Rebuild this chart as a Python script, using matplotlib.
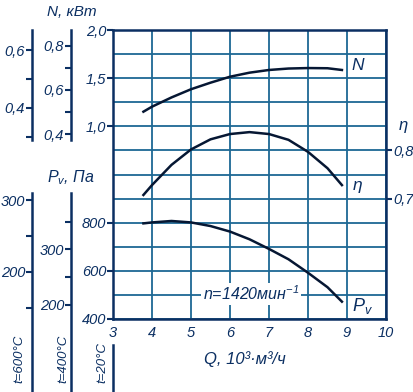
import numpy as np
import matplotlib
matplotlib.use("Agg")
import matplotlib.pyplot as plt

plt.rcParams['font.family'] = ['Liberation Sans', 'DejaVu Sans']
plt.rcParams['font.style'] = 'italic'
plt.rcParams['mathtext.fontset'] = 'custom'
plt.rcParams['mathtext.it'] = 'Liberation Sans:italic'
plt.rcParams['mathtext.rm'] = 'Liberation Sans:italic'

# Q, 10^3 m3/h
q = [3.78, 4.0, 4.5, 5.0, 5.5, 6.0, 6.5, 7.0, 7.5, 8.0, 8.5, 8.87]
# power, kW
n_kw = [1.152, 1.204, 1.30, 1.385, 1.453, 1.515, 1.557, 1.585, 1.60, 1.605, 1.603, 1.585]
# efficiency
eta = [0.7075, 0.728, 0.770, 0.802, 0.823, 0.834, 0.838, 0.834, 0.822, 0.797, 0.763, 0.728]
# pressure, Pa (t=20C)
pv = [797, 801, 807, 801, 786, 763, 731, 691, 648, 592, 532, 472]

x_ticks = [3, 4, 5, 6, 7, 8, 9, 10]
n_ticks = [1.0, 1.5, 2.0]
n_labels = ['1,0', '1,5', '2,0']
pv_ticks = [400, 600, 800]
eta_ticks = [0.7, 0.8]
eta_labels = ['0,7', '0,8']

# extra scales for hot gas: density ratio 293/T
k600 = 293 / 873
k400 = 293 / 673
n600_major, n600_minor = [0.4, 0.6], [0.3, 0.5]
n400_major, n400_minor = [0.4, 0.6, 0.8], [0.5, 0.7]
pv600_major, pv600_minor = [200, 300], [150, 250]
pv400_major, pv400_minor = [200, 300], [250, 350]

DARK = '#0b2f62'
GRID = '#1d6894'
CURVE = '#061733'
FS = 10.5

W, H = 414, 392
fig = plt.figure(figsize=(W / 100, H / 100), dpi=100)
L, R, T, B = 113, 386, 30, 319
ax = fig.add_axes([L / W, 1 - B / H, (R - L) / W, (B - T) / H])

# Pv axis (base)
ax.set_xlim(3, 10)
ax.set_ylim(400, 1600)
ax.set_xticks(x_ticks)
ax.set_xticklabels([str(v) for v in x_ticks])
ax.set_yticks(pv_ticks)
ax.set_yticklabels([str(v) for v in pv_ticks])
ax.set_yticks(np.arange(400, 1700, 100), minor=True)
ax.grid(True, which='both', color=GRID, lw=1.3)
ax.set_axisbelow(True)
ax.tick_params(axis='x', length=0, pad=5, labelsize=FS, labelcolor=DARK)
ax.tick_params(axis='y', which='major', direction='out', length=4, width=1.5,
               color=DARK, labelsize=FS, labelcolor=DARK, pad=1)
ax.tick_params(axis='y', which='minor', length=0)
for s in ax.spines.values():
    s.set_color(DARK)
    s.set_linewidth(1.8)
ax.plot(q, pv, color=CURVE, lw=1.8, zorder=5, solid_joinstyle='round')
# left spine continues below the chart
ax.plot([0, 0], [-0.09, -0.27], transform=ax.transAxes, clip_on=False,
        color=DARK, lw=1.8)

# N axis
axN = ax.twinx()
axN.set_ylim(-1, 2)
axN.yaxis.tick_left()
axN.set_yticks(n_ticks)
axN.set_yticklabels(n_labels)
axN.tick_params(axis='y', direction='out', length=4, width=1.5, color=DARK,
                labelsize=FS, labelcolor=DARK, pad=1)
for s in axN.spines.values():
    s.set_visible(False)
axN.plot(q, n_kw, color=CURVE, lw=1.8, solid_joinstyle='round')

# eta axis
axE = ax.twinx()
axE.set_ylim(0.45, 1.05)
axE.set_yticks(eta_ticks)
axE.set_yticklabels(eta_labels)
axE.tick_params(axis='y', direction='out', length=4, width=1.5, color=DARK,
                labelsize=FS, labelcolor=DARK, pad=1)
for s in axE.spines.values():
    s.set_visible(False)
axE.plot(q, eta, color=CURVE, lw=1.8, solid_joinstyle='round')

# extra left scales
px_per_u = (B - T) / 12
u_lo = -(H - B) / px_per_u
u_hi = B / px_per_u


def side_scale(xpx, k, nmaj, nmin, pmaj, pmin):
    a = fig.add_axes([xpx / W, 0, 0.0001, 1])
    a.patch.set_visible(False)
    a.set_xticks([])
    a.set_ylim(k * (1 + (u_lo - 8) * 0.25), k * (1 + (u_hi - 8) * 0.25))
    for nm, s in a.spines.items():
        s.set_visible(nm == 'left')
    a.spines['left'].set_color(DARK)
    a.spines['left'].set_linewidth(1.8)
    a.spines['left'].set_bounds(k * 0.855, k * 2.0)
    a.set_yticks(nmaj)
    a.set_yticklabels([('%.1f' % v).replace('.', ',') for v in nmaj])
    a.set_yticks(nmin, minor=True)
    a.tick_params(axis='y', which='both', direction='out', length=4, width=1.5,
                  color=DARK, labelsize=FS, labelcolor=DARK, pad=1)

    b = a.twinx()
    b.patch.set_visible(False)
    b.set_ylim(k * (400 + 100 * u_lo), k * (400 + 100 * u_hi))
    b.yaxis.tick_left()
    for nm, s in b.spines.items():
        s.set_visible(nm == 'left')
    b.spines['left'].set_color(DARK)
    b.spines['left'].set_linewidth(1.8)
    b.spines['left'].set_bounds(k * 0, k * 925)
    b.set_yticks(pmaj)
    b.set_yticklabels([str(v) for v in pmaj])
    b.set_yticks(pmin, minor=True)
    b.tick_params(axis='y', which='both', direction='out', length=4, width=1.5,
                  color=DARK, labelsize=FS, labelcolor=DARK, pad=1)


side_scale(32, k600, n600_major, n600_minor, pv600_major, pv600_minor)
side_scale(71, k400, n400_major, n400_minor, pv400_major, pv400_minor)


def ftext(xpx, ypx, s, **kw):
    kw.setdefault('ha', 'center')
    kw.setdefault('va', 'center')
    kw.setdefault('fontsize', FS)
    fig.text(xpx / W, 1 - ypx / H, s, color=DARK, **kw)


ftext(72, 12, 'N, кВт', fontsize=11)
ftext(71, 178, r'$P_{v}$, Па', fontsize=11.5)
ftext(245, 359, 'Q, 10³·м³/ч', fontsize=12)
ftext(403, 127, r'$\eta$', fontsize=12)
ftext(358, 66, 'N', fontsize=12.5)
ftext(357, 187, r'$\eta$', fontsize=12.5)
ftext(362, 306, r'$P_{v}$', fontsize=13)
ftext(251, 294, r'n=1420мин$^{-1}$', fontsize=11.5,
      bbox=dict(facecolor='white', edgecolor='none', pad=1))
ftext(19, 383, 't=600°C', rotation=90, va='bottom', fontsize=9.5)
ftext(63, 383, 't=400°C', rotation=90, va='bottom', fontsize=9.5)
ftext(102, 383, 't=20°C', rotation=90, va='bottom', fontsize=9.5)

fig.savefig('out.png', dpi=100)
